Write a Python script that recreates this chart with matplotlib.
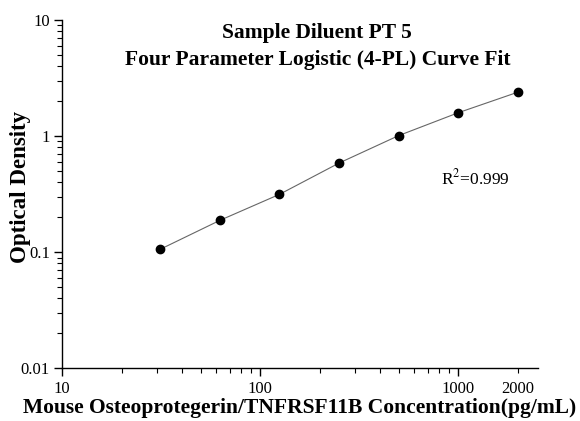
"""
Standard curve plot: Sample Diluent PT 5, 4-PL fit.
"""
import matplotlib
matplotlib.use('Agg')
import matplotlib.pyplot as plt
from matplotlib.ticker import FixedLocator, LogLocator, FuncFormatter, NullFormatter

# ── Data ──────────────────────────────────────────────────────────────────────
conc = [31.25, 62.5, 125, 250, 500, 1000, 2000]
od   = [0.106, 0.188, 0.315, 0.586, 1.01, 1.59, 2.39]

x_ticks = [10, 100, 1000]
y_ticks = [0.01, 0.1, 1, 10]
y_tick_labels = ['0.01', '0.1', '1', '10']

title_lines = ['Sample Diluent PT 5', 'Four Parameter Logistic (4-PL) Curve Fit']
r2_text = 'R$^2$=0.999'

# ── Plot ──────────────────────────────────────────────────────────────────────
plt.rcParams['font.family'] = ['Liberation Serif', 'DejaVu Serif']
plt.rcParams['mathtext.fontset'] = 'stix'

fig = plt.figure(figsize=(5.8, 4.21), dpi=100)
ax = fig.add_axes([0.1074, 0.1252, 0.8198, 0.8273])

ax.plot(conc, od, color='#666666', linewidth=0.8, zorder=2)
ax.plot(conc, od, 'o', color='black', markersize=6, zorder=3)

ax.set_xscale('log')
ax.set_yscale('log')
ax.set_xlim(10, 2520)
ax.set_ylim(0.01, 10)

ax.xaxis.set_major_locator(FixedLocator(x_ticks))
ax.xaxis.set_major_formatter(FuncFormatter(lambda v, p: f'{v:g}'))
ax.xaxis.set_minor_locator(LogLocator(base=10, subs=range(2, 10), numticks=20))
ax.xaxis.set_minor_formatter(FuncFormatter(lambda v, p: '2000' if abs(v - 2000) < 1 else ''))

ax.yaxis.set_major_locator(FixedLocator(y_ticks))
ax.set_yticklabels(y_tick_labels)
ax.yaxis.set_minor_locator(LogLocator(base=10, subs=range(2, 10), numticks=20))
ax.yaxis.set_minor_formatter(NullFormatter())

for side in ['top', 'right']:
    ax.spines[side].set_visible(False)
for side in ['left', 'bottom']:
    ax.spines[side].set_linewidth(1.0)

ax.tick_params(which='major', direction='out', length=6, width=1, labelsize=12, pad=3)
ax.tick_params(which='minor', direction='out', length=3.5, width=0.8, labelsize=12, pad=5.5)

ax.set_xlabel('Mouse Osteoprotegerin/TNFRSF11B Concentration(pg/mL)',
              fontsize=15.5, fontweight='bold', labelpad=1)
ax.set_ylabel('Optical Density', fontsize=16.5, fontweight='bold')
ax.yaxis.set_label_coords(-0.066, 0.522)

fig.text(0.547, 1 - 33 / 421, title_lines[0], ha='center', va='center',
         fontsize=15.5, fontweight='bold')
fig.text(0.547, 1 - 60 / 421, title_lines[1], ha='center', va='center',
         fontsize=15.5, fontweight='bold')

ax.text(820, 0.43, r2_text, ha='left', va='center', fontsize=12.5)

fig.savefig('out.png', dpi=100)
print('Saved: out.png')
